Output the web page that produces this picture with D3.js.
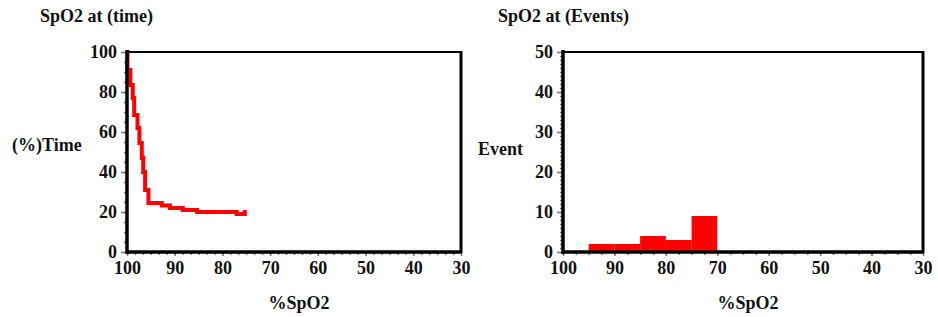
<!DOCTYPE html>
<html>
<head>
<meta charset="utf-8">
<script src="https://cdn.jsdelivr.net/npm/d3@7"></script>
<style>
  body { margin: 0; background: #fff; }
</style>
</head>
<body>
<script>
var w = 938
var h = 317
var serif = "'Liberation Serif', 'DejaVu Serif', 'Times New Roman', serif"

// SpO2 vs time, cumulative step curve
var timeSpo2 = [100, 99.9, 99.3, 98.8, 98.5, 97.8, 97.4, 96.9, 96.6, 96.2, 95.5, 92.7, 91, 88.3, 85.3, 77, 75.3, 74.9]
var timePct  = [100, 91, 83.5, 77, 68.5, 62, 54.5, 47, 40, 31, 24.5, 23.3, 22, 21, 20, 19, 20, 20]

// events histogram (5% bins)
var binStart = [95, 90, 85, 80, 75]
var binEnd   = [90, 85, 80, 75, 70]
var binCount = [2, 2, 4, 3, 9]

var spo2Ticks  = [100, 90, 80, 70, 60, 50, 40, 30]
var timeTicks  = [0, 20, 40, 60, 80, 100]
var eventTicks = [0, 10, 20, 30, 40, 50]

var svg = d3.select("body")
            .append("svg")
            .attr("width", w)
            .attr("height", h)

function label(g, str, x, y, anchor) {
  return g.append("text").text(str)
    .attr("x", x).attr("y", y)
    .attr("text-anchor", anchor || "start")
    .attr("font-family", serif)
    .attr("font-weight", "bold")
    .attr("font-size", "18px")
    .attr("fill", "#111")
}

function panel(opts) {
  var x = d3.scaleLinear().domain([100, 30]).range([opts.x0, opts.x1])
  var y = d3.scaleLinear().domain([0, opts.ymax]).range([252, 52])

  var g = svg.append("g")

  // minor ticks
  g.append("g")
    .attr("transform", "translate(" + opts.x0 + ",0)")
    .call(d3.axisLeft(y).tickValues(d3.range(0, opts.ymax, opts.yMinor)).tickSize(3).tickFormat(""))
  g.append("g")
    .attr("transform", "translate(0,252)")
    .call(d3.axisBottom(x).tickValues(d3.range(100, 30, -opts.xMinor)).tickSize(3).tickFormat(""))

  // major ticks + labels
  g.append("g")
    .attr("transform", "translate(" + opts.x0 + ",0)")
    .call(d3.axisLeft(y).tickValues(opts.yTicks).tickSize(6).tickPadding(4))
  g.append("g")
    .attr("transform", "translate(0,252)")
    .call(d3.axisBottom(x).tickValues(spo2Ticks).tickSize(4).tickPadding(5))

  g.selectAll(".domain").remove()
  g.selectAll(".tick line").attr("stroke", "#777").attr("stroke-width", 1.5)
  g.selectAll(".tick text")
    .attr("font-size", "18px").attr("fill", "#111")
    .attr("font-family", serif).attr("font-weight", "bold")

  opts.draw(g, x, y)

  // frame
  g.append("rect")
    .attr("x", opts.x0).attr("y", 52)
    .attr("width", opts.x1 - opts.x0).attr("height", 200)
    .attr("fill", "none").attr("stroke", "#000").attr("stroke-width", 2)
  g.append("line")
    .attr("x1", opts.x0).attr("x2", opts.x0).attr("y1", 50).attr("y2", 254)
    .attr("stroke", "#000").attr("stroke-width", 3.5)
  g.append("line")
    .attr("x1", opts.x0).attr("x2", opts.x1 + 1).attr("y1", 252).attr("y2", 252)
    .attr("stroke", "#000").attr("stroke-width", 3.5)
  g.append("line")
    .attr("x1", opts.x1).attr("x2", opts.x1).attr("y1", 51).attr("y2", 253)
    .attr("stroke", "#000").attr("stroke-width", 3)

  // titles
  label(g, opts.title, opts.titleX, 22)
  label(g, opts.ylabel, opts.ylabelX, opts.ylabelY)
  label(g, "%SpO2", (opts.x0 + opts.x1) / 2 + 5, 309, "middle")
}

panel({
  x0: 127, x1: 461, ymax: 100, yMinor: 5, xMinor: 10 / 6,
  yTicks: timeTicks,
  title: "SpO2 at (time)", titleX: 40,
  ylabel: "(%)Time", ylabelX: 12, ylabelY: 151,
  draw: function(g, x, y) {
    var pts = timeSpo2.map(function(d, i) { return [d, timePct[i]] })
    var line = d3.line()
      .x(function(d) { return x(d[0]) })
      .y(function(d) { return y(d[1]) })
      .curve(d3.curveStepAfter)
    g.append("path")
      .attr("d", line(pts))
      .attr("fill", "none")
      .attr("stroke", "#ff0000")
      .attr("stroke-width", 4)
  }
})

panel({
  x0: 563, x1: 923, ymax: 50, yMinor: 1, xMinor: 2.5,
  yTicks: eventTicks,
  title: "SpO2 at (Events)", titleX: 498,
  ylabel: "Event", ylabelX: 478, ylabelY: 155,
  draw: function(g, x, y) {
    g.selectAll("rect.bar")
      .data(binCount)
      .enter().append("rect")
      .attr("class", "bar")
      .attr("x", function(d, i) { return x(binStart[i]) })
      .attr("width", function(d, i) { return x(binEnd[i]) - x(binStart[i]) })
      .attr("y", function(d) { return y(d) })
      .attr("height", function(d) { return y(0) - y(d) })
      .attr("fill", "#ff0000")
  }
})
</script>
</body>
</html>
